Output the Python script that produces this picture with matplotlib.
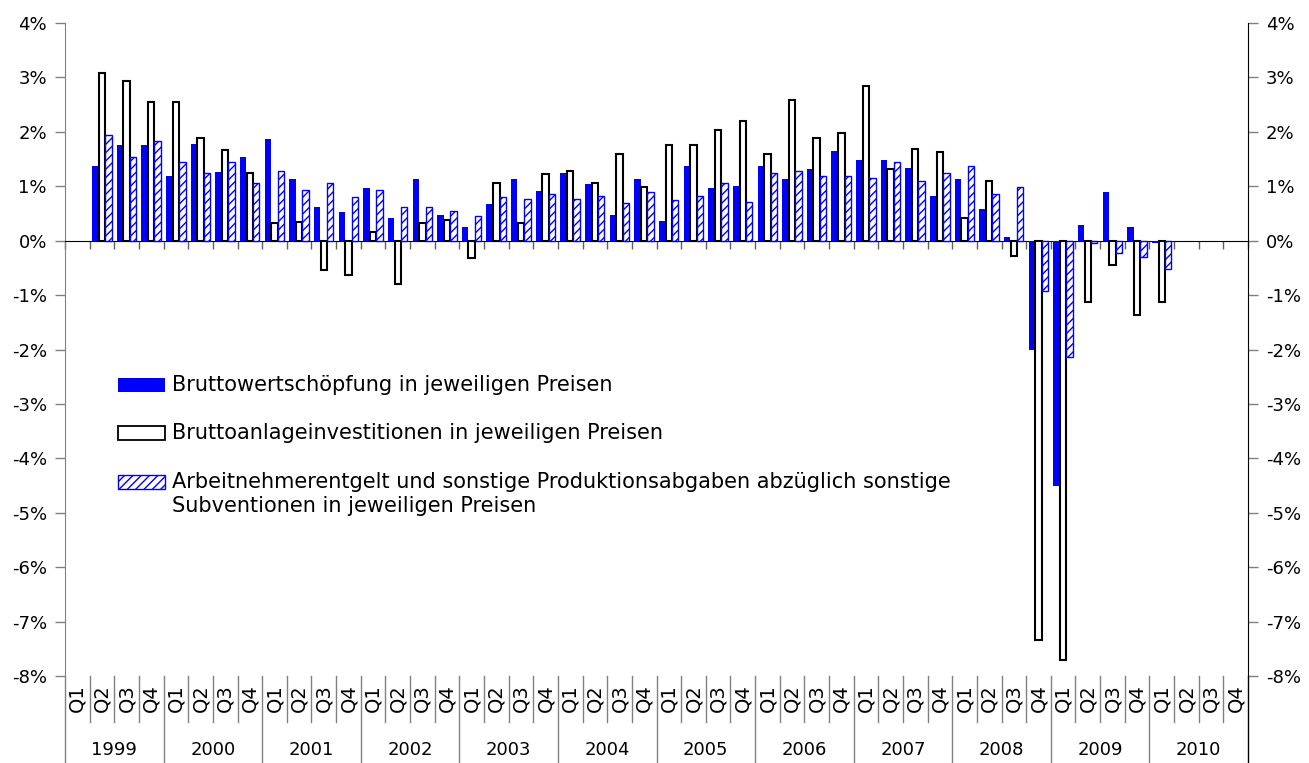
import matplotlib
matplotlib.use("Agg")
import matplotlib.pyplot as plt
from matplotlib.patches import Rectangle
import numpy as np

nan = np.nan

years = ["1999", "2000", "2001", "2002", "2003", "2004",
         "2005", "2006", "2007", "2008", "2009", "2010"]
quarters = ["Q1", "Q2", "Q3", "Q4"]

# quarterly change in %, 1999 Q1 .. 2010 Q4
bws = [nan, 1.38, 1.75, 1.75,
       1.18, 1.78, 1.27, 1.53,
       1.86, 1.14, 0.61, 0.52,
       0.96, 0.41, 1.14, 0.48,
       0.25, 0.67, 1.14, 0.92,
       1.25, 1.05, 0.48, 1.14,
       0.36, 1.38, 0.96, 1.00,
       1.38, 1.14, 1.31, 1.65,
       1.49, 1.49, 1.34, 0.83,
       1.14, 0.58, 0.06, -2.01,
       -4.51, 0.28, 0.89, 0.25,
       -0.05, nan, nan, nan]

bai = [nan, 3.09, 2.93, 2.55,
       2.55, 1.89, 1.66, 1.25,
       0.32, 0.35, -0.54, -0.64,
       0.16, -0.80, 0.32, 0.38,
       -0.32, 1.06, 0.32, 1.22,
       1.28, 1.06, 1.59, 0.99,
       1.75, 1.75, 2.04, 2.20,
       1.59, 2.58, 1.89, 1.98,
       2.84, 1.31, 1.69, 1.63,
       0.42, 1.09, -0.29, -7.33,
       -7.71, -1.12, -0.45, -1.37,
       -1.12, nan, nan, nan]

ane = [nan, 1.95, 1.53, 1.83,
       1.44, 1.25, 1.44, 1.06,
       1.28, 0.93, 1.06, 0.81,
       0.93, 0.61, 0.61, 0.55,
       0.45, 0.81, 0.77, 0.86,
       0.77, 0.83, 0.70, 0.90,
       0.74, 0.83, 1.06, 0.71,
       1.25, 1.28, 1.19, 1.19,
       1.16, 1.44, 1.09, 1.25,
       1.37, 0.86, 0.99, -0.92,
       -2.14, -0.04, -0.23, -0.30,
       -0.52, nan, nan, nan]

labels = ["Bruttowertschöpfung in jeweiligen Preisen",
          "Bruttoanlageinvestitionen in jeweiligen Preisen",
          "Arbeitnehmerentgelt und sonstige Produktionsabgaben abzüglich sonstige\n"
          "Subventionen in jeweiligen Preisen"]

yticks = list(range(-8, 5))

BLUE = "#0000FF"
plt.rcParams["hatch.linewidth"] = 1.0

fig = plt.figure(figsize=(13.09, 7.63), dpi=100)
W, H = 1309, 763
ax = fig.add_axes([65 / W, 1 - 676 / H, (1248 - 65) / W, (676 - 23) / H])

n = len(bws)
x = np.arange(n) + 0.5
w = 0.26
b1 = ax.bar(x - 0.27, bws, w, color=BLUE, linewidth=0, zorder=3)
b2 = ax.bar(x, bai, w, facecolor="white", edgecolor="black", linewidth=1.5, zorder=3)
b3 = ax.bar(x + 0.26, ane, w, facecolor="white", edgecolor=BLUE, hatch="////",
            linewidth=1.0, zorder=3)

ax.set_xlim(0, n)
ax.set_ylim(-8, 4)

# y axes left and right
ax.set_yticks(yticks)
ax.set_yticklabels([f"{v}%" for v in yticks])
ax.tick_params(axis="y", left=True, right=True, labelleft=True, labelright=True,
               direction="out", length=7, width=1, color="#808080",
               labelsize=13, pad=6)
ax.spines["top"].set_visible(False)
ax.spines["left"].set_color("#808080")
ax.spines["right"].set_color("black")

# x axis on the zero line, tick marks between quarters
ax.spines["bottom"].set_position(("data", 0))
ax.spines["bottom"].set_color("black")
ax.set_xticks(np.arange(0, n + 1))
ax.set_xticklabels([])
ax.tick_params(axis="x", direction="out", length=6, width=1, color="#606060")

# category labels below the plot
trans = ax.get_xaxis_transform()
y_q_bot = -(722 - 676) / 653
y_bot = -(763 - 676) / 653
for i in range(n):
    ax.text(i + 0.5, -(698 - 676) / 653, quarters[i % 4], transform=trans,
            rotation=90, ha="center", va="center", fontsize=14)
for k in range(n + 1):
    lo = y_bot if k % 4 == 0 else y_q_bot
    col = "black" if k == n else "#808080"
    ax.plot([k, k], [0, lo], transform=trans, color=col, lw=1, clip_on=False)
for j, yr in enumerate(years):
    ax.text(j * 4 + 2, -(750 - 676) / 653, yr, transform=trans,
            ha="center", va="center", fontsize=13)

# legend
handles = [dict(facecolor=BLUE, edgecolor=BLUE, hatch=None, lw=0),
           dict(facecolor="white", edgecolor="black", hatch=None, lw=1.3),
           dict(facecolor="white", edgecolor=BLUE, hatch="////", lw=1.0)]
centers = [385, 433, 482]
for lab, st, cy in zip(labels, handles, centers):
    fig.patches.append(Rectangle((118 / W, 1 - (cy + 7) / H), 47 / W, 14 / H,
                                 transform=fig.transFigure, facecolor=st["facecolor"],
                                 edgecolor=st["edgecolor"], hatch=st["hatch"],
                                 linewidth=st["lw"]))
    fig.text(172 / W, 1 - (cy - 10) / H, lab, ha="left", va="top",
             fontsize=15, linespacing=1.25)

fig.savefig("out.png", dpi=100)
